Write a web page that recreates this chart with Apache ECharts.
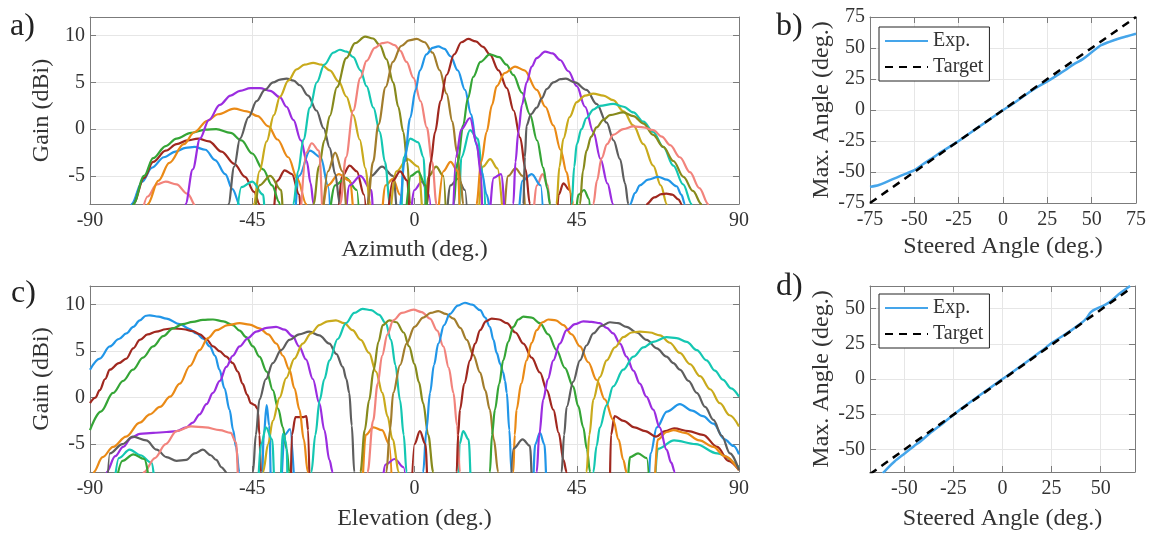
<!DOCTYPE html>
<html><head><meta charset="utf-8">
<script src="https://cdn.jsdelivr.net/npm/echarts@6/dist/echarts.min.js"></script>
<style>html,body{margin:0;padding:0;background:#fff}#c{width:1163px;height:536px}</style>
</head><body><div id="c"></div>
<script>
// ---------- DATA ----------
// Panel a) azimuth beams: [angle(deg), gain(dBi)]
const azPink1 = [[-77,-12],[-74,-7.2],[-71.5,-5.9],[-69,-5.6],[-66,-5.9],[-63,-6.9],[-60.5,-8.3],[-59,-12]];
const azBlue1 = [[-79.5,-12],[-78.5,-8],[-75.5,-5.6],[-72.8,-4.1],[-69.5,-3.0],[-66.3,-2.4],[-63.5,-2.0],[-61,-1.9],[-58,-2.2],[-55.3,-3.3],[-52.5,-4.8],[-50.5,-6.4],[-48.3,-8.2],[-47,-12],[-34,-12],[-32,-5],[-29,-2.3],[-26,-3],[-24,-6],[-23,-12]];
const azRed1 = [[-79,-12],[-78,-8],[-75,-5.2],[-72.5,-3.5],[-69,-2.3],[-66,-1.6],[-63,-1.2],[-60,-1.0],[-57,-1.3],[-53.5,-2.4],[-50,-3.7],[-47,-5.1],[-44.5,-6.7],[-43,-8],[-42,-12],[-40,-12],[-38,-5.5],[-36,-4.4],[-34,-4.8],[-32,-7],[-31,-12],[-22,-12],[-20,-5],[-18,-3.9],[-16,-4.5],[-14,-7],[-13,-12]];
const azGreen1 = [[-79,-12],[-78,-8],[-75,-5.0],[-72.5,-3.1],[-69,-1.8],[-66,-1.0],[-62,-0.4],[-58,-0.05],[-55,0.0],[-51,-0.4],[-48,-1.2],[-45,-2.6],[-42,-4.3],[-39.5,-6.0],[-37.5,-7.8],[-36.5,-12],[-25,-12],[-22,-6],[-19,-5.2],[-16,-6.5],[-15,-12]];
const azOrange1 = [[-75,-12],[-74,-8],[-71,-5.5],[-68,-3.6],[-64,-1.6],[-61,-0.3],[-57.5,0.9],[-54.5,1.6],[-50,2.2],[-46.5,1.9],[-43.5,1.4],[-40.5,0.3],[-38,-1.1],[-35,-3.0],[-32.5,-5.3],[-30,-8],[-29,-12],[-27,-12],[-24,-6],[-21,-4.8],[-18,-5.5],[-16,-12],[-10,-12],[-8,-6],[-6,-5.3],[-4,-7],[-3,-12]];
const azPurple1 = [[-64.5,-12],[-63.5,-8],[-61.5,-4.3],[-59.5,-1.0],[-57,1.0],[-54,2.6],[-51,3.6],[-48.4,4.1],[-45.5,4.4],[-42.9,4.4],[-40,4.1],[-37.3,3.4],[-35.5,2.4],[-33.6,1.0],[-31.5,-1.2],[-29.9,-3.4],[-28.8,-5.8],[-28,-8],[-27.5,-12],[-20,-12],[-18,-6],[-15,-5],[-12,-6.5],[-11,-12],[-2,-12],[0,-6.5],[2,-5.6],[4,-7],[5,-12]];
const azGray1 = [[-52.5,-12],[-51.6,-8],[-50,-4],[-48.4,-1.0],[-46,1.3],[-43.8,3.0],[-41.5,4.2],[-39.2,5.0],[-37.3,5.3],[-35.5,5.4],[-33.5,5.2],[-31.8,4.7],[-29.5,3.6],[-27.2,2.0],[-25.2,0.1],[-23.5,-2.0],[-22,-4.8],[-20.7,-8],[-20,-12],[-14,-12],[-12,-5],[-9,-4.0],[-6,-5],[-4,-12],[8,-12],[10,-6],[12,-5.3],[14,-6.5],[15,-12]];
const azGold1 = [[-45.5,-12],[-44.6,-8],[-43,-4.5],[-41,-1.3],[-39,1.5],[-37.3,3.5],[-35,5.2],[-32.7,6.4],[-30.5,6.9],[-28.1,7.1],[-25.8,6.9],[-23.5,6.3],[-21,5.1],[-18.9,3.5],[-17,1.5],[-15.2,-1.1],[-13.6,-4.2],[-12.3,-8],[-11.5,-12],[-8,-12],[-5,-4.5],[-2,-3.2],[1,-4],[3,-12],[17,-12],[19,-4],[21,-3.2],[23,-4.2],[25,-12]];
const azTeal1 = [[-50,-12],[-48,-6.2],[-45,-5.6],[-42,-7],[-41,-12],[-34.5,-12],[-33.6,-8],[-32.3,-4.5],[-30.8,-1.1],[-29,2.3],[-27.1,5.0],[-25,6.9],[-22.5,8.2],[-20.7,8.5],[-18.8,8.3],[-17,7.7],[-15,6.3],[-13.3,4.6],[-11.4,2.3],[-9.6,-0.3],[-8.2,-3.5],[-6.8,-8],[-6,-12],[-4,-12],[-3,-3],[-1.2,-1.0],[1,-1.4],[2.5,-3],[3.5,-12],[12,-12],[13,-3],[15.4,-0.1],[17.5,-1],[19,-5],[20,-12]];
const azOlive1 = [[-45,-12],[-43,-6.0],[-40,-5],[-37,-6.5],[-36,-12],[-29,-12],[-28,-8],[-26.5,-4],[-25,-1.2],[-23.5,1.4],[-21.5,4.5],[-18.9,7.6],[-16.5,9.2],[-13.7,9.9],[-11.5,9.7],[-9.6,9.0],[-7.8,7.5],[-5.9,5.0],[-4.5,2.4],[-3.1,-0.3],[-2,-3.5],[-1.2,-8],[-0.8,-12],[2,-12],[4,-5],[6,-4],[8,-5],[9,-12]];
const azPink2 = [[-32,-12],[-30,-2.5],[-28.5,-1.5],[-26.5,-2.3],[-25,-12],[-21.5,-12],[-20.6,-8],[-19,-3],[-17,2.0],[-15,5.5],[-13.3,7.3],[-11,8.7],[-9,9.2],[-7.5,9.3],[-5.5,9.0],[-4,8.4],[-2.2,7.2],[-0.3,5.5],[1.7,3.0],[3.4,0.2],[4.9,-3.5],[6.1,-8],[6.8,-12],[32,-12],[34,-6],[35.5,-4.8],[37,-6],[38,-12]];
const azBrown1 = [[-26,-12],[-24,-4.5],[-22,-2.5],[-20,-4.5],[-18,-12],[-14,-12],[-13,-8],[-11.5,-3.5],[-10,0.5],[-8,4.5],[-6,7.2],[-3.7,8.9],[-1.5,9.5],[0.6,9.65],[2.8,9.3],[5,8.2],[7,6.3],[8.9,3.8],[10.5,0.8],[11.8,-2.5],[12.8,-5.5],[13.5,-8],[14,-12],[24,-12],[26,-5],[28,-4.2],[30,-5],[31,-12]];
const azBlue2 = [[-5,-12],[-4,-8],[-2.8,-3.5],[-1.2,1.2],[0.3,4.2],[1.5,6.3],[3.3,8.0],[5,8.7],[6.6,8.85],[8.3,8.6],[10,7.8],[12,6.3],[14,4.2],[15.7,1.6],[17.2,-1.7],[18.6,-4.5],[20,-7],[21,-8.5],[21.5,-12],[28,-12],[30,-5.5],[32.5,-4.8],[35,-6],[36,-12]];
const azRed2 = [[-8,-12],[-6,-5.5],[-4,-4.5],[-2,-5.5],[-1,-12],[2.8,-12],[3.4,-8],[4.5,-3.5],[5.7,-0.3],[7.2,3.0],[8.9,5.8],[11,8.0],[13,9.3],[14.9,9.65],[17,9.4],[19,8.8],[20.9,8.0],[23.3,6.3],[25.6,4.4],[27.5,2.0],[29.3,-0.9],[30.8,-4.3],[32,-8],[32.5,-12],[39,-12],[40,-7],[41.3,-5.8],[43,-6.5],[44,-12]];
const azGreen2 = [[-3,-12],[-1,-5],[1,-4.5],[3,-6],[4,-12],[10,-12],[10.8,-8],[12,-3.5],[13.5,0.4],[14.8,3.3],[16.3,5.6],[18.3,7.2],[20.9,8.0],[23.5,7.7],[25.5,6.9],[27.4,5.8],[29.8,3.9],[32,1.6],[34,-1.2],[35.7,-4.1],[36.8,-6.3],[37.6,-8],[38.2,-12],[44,-12],[45.5,-7],[47,-6.5],[48.5,-7.5],[49,-12]];
const azOrange2 = [[6,-12],[8,-4.5],[10,-3.5],[12,-4.5],[13,-12],[16.5,-12],[17.2,-8],[18.5,-3.5],[20,-0.3],[21.5,2.6],[22.8,4.6],[25,6.0],[27.9,6.7],[30.5,6.3],[33.9,4.2],[36.3,2.4],[38.5,0.4],[40.5,-2.2],[42.2,-4.6],[43.3,-6.8],[44,-8],[44.5,-12]];
const azPurple2 = [[10.5,-12],[11.5,-3],[13,0],[15.4,1.2],[17.2,-1.5],[18.5,-5],[19,-12],[20,-12],[22,-5.2],[24,-4.8],[25.8,-12],[26.8,-12],[27.4,-8],[28,-3.5],[28.8,-0.3],[29.8,2.6],[31.1,5.0],[32.5,6.7],[33.9,7.6],[36.2,8.3],[38.3,8.1],[40.4,7.4],[42.7,6.2],[45,4.6],[47.3,2.4],[49.6,-0.3],[51.6,-3.2],[53.5,-5.8],[55.1,-8],[55.6,-12]];
const azGray2 = [[29.6,-12],[30.2,-8],[30.6,-3],[31.1,0.4],[32.3,1.6],[33.9,2.3],[35.3,3.3],[36.7,4.3],[38.5,5.0],[40.5,5.35],[42,5.4],[44.5,5.0],[47.7,4.2],[50.5,2.7],[53.3,0.7],[55.2,-1.2],[57,-3.2],[58.4,-5.8],[59.3,-8],[59.8,-12]];
const azGold2 = [[38.8,-12],[39.4,-8],[40.2,-4],[41.3,-1.0],[43,1.3],[45,2.9],[47.3,3.6],[49.6,3.8],[52.4,3.6],[55.1,3.1],[58,1.9],[60.7,0.4],[63.5,-1.6],[66.2,-3.9],[68.3,-6.0],[70,-8],[70.5,-12]];
const azTeal2 = [[43,-12],[43.6,-8],[44.3,-4],[45,-1.6],[46.3,0.0],[47.7,1.2],[49.6,2.1],[51.4,2.5],[55.1,2.7],[58,2.4],[60.7,1.8],[63.5,0.8],[66.2,-0.3],[69,-1.9],[71.8,-3.9],[74.5,-5.9],[76.9,-8],[77.4,-12]];
const azOlive2 = [[45.4,-12],[45.9,-8],[46.7,-4.5],[47.7,-2.3],[49,-0.8],[50.5,0.2],[52.4,1.0],[54.2,1.5],[57.9,1.8],[60.7,1.4],[63.5,0.6],[66.2,-0.6],[69,-1.9],[71.8,-3.4],[74.6,-5.1],[77.2,-6.6],[79.6,-8],[80.2,-12]];
const azPink3 = [[49,-12],[49.6,-8],[50.6,-5.5],[51.9,-3.1],[53.4,-1.6],[55.1,-0.6],[57.9,0.0],[60.7,0.3],[63.5,0.2],[66.2,-0.1],[68.6,-0.8],[70.9,-1.7],[73.6,-3.0],[76.4,-4.6],[79,-6.3],[81.5,-8],[82,-12]];
const azBlue3 = [[59,-12],[59.8,-8],[61.2,-6.8],[62.5,-6.0],[64.8,-5.4],[67.6,-5.1],[70,-5.4],[72.7,-6.1],[74,-7.0],[75,-8],[75.5,-12]];
const azRed3 = [[63.8,-12],[64.4,-8],[66.5,-7.3],[68.5,-6.95],[69.9,-6.9],[71.5,-7.0],[73.2,-7.5],[74.1,-8],[74.6,-12]];

// Panel c) elevation beams
const elBlue1 = [[-90,3.0],[-87.3,4.2],[-84.5,5.5],[-82,6.3],[-79.9,6.9],[-78,7.6],[-76.2,8.3],[-74.5,8.8],[-73.4,8.85],[-71,8.7],[-68.8,8.5],[-65.1,7.9],[-62.5,7.4],[-60.5,6.9],[-58.5,6.3],[-56.8,5.5],[-55.3,4.5],[-54.1,3.0],[-52.7,1.0],[-51.3,-1.3],[-50.3,-3.5],[-49.5,-5.3],[-48.6,-8],[-48,-12],[-42.5,-12],[-41.8,-4],[-41,-0.8],[-40.3,-3],[-39.6,-12],[-37.5,-12],[-36,-4],[-34.5,-3.4],[-33,-12]];
const elRed1 = [[-90,-0.6],[-88.5,0.0],[-87.3,0.8],[-85.8,2.0],[-84.5,3.0],[-82,3.7],[-79.9,4.2],[-78,5.3],[-76.2,6.2],[-74,6.8],[-71.6,7.1],[-69,7.35],[-67,7.45],[-64,7.35],[-61.5,7.15],[-59.5,6.8],[-57.8,6.3],[-55.8,5.5],[-54.1,5.0],[-52.2,4.4],[-50.4,3.7],[-49,2.8],[-47.7,1.5],[-46.4,0.3],[-45.4,-0.6],[-44.3,-0.8],[-43.5,-1.2],[-43,-4],[-42.6,-8],[-42.3,-12],[-34.5,-12],[-34,-4],[-33,-2.1],[-31,-2.1],[-30,-2.0],[-29.5,-3.5],[-29,-12]];
const elGreen1 = [[-90,-3.5],[-87,-1.5],[-83.6,0.5],[-80.8,1.8],[-78.1,3.0],[-75.3,4.3],[-72.5,5.5],[-69.7,6.6],[-67,7.45],[-64.3,7.9],[-61.5,8.15],[-58.7,8.35],[-55.9,8.4],[-53,8.2],[-50.4,7.8],[-48.5,7.2],[-46.7,6.5],[-44.8,5.5],[-43,4.4],[-41,2.8],[-39.3,0.8],[-37.8,-1.2],[-36.5,-3.2],[-35.5,-5.5],[-34.7,-8],[-34.3,-12]];
const elOrange1 = [[-89.5,-12],[-89,-8],[-86.5,-6.4],[-83.6,-5.3],[-80,-4.2],[-76.2,-2.7],[-73.4,-1.8],[-70.6,-1.0],[-67.8,0.1],[-65.1,1.5],[-62.3,3.4],[-59.6,5.1],[-57.3,6.4],[-54.9,7.25],[-51.8,7.8],[-48.5,8.0],[-45.7,7.85],[-43,7.45],[-40.6,6.8],[-38.3,5.8],[-36.5,4.5],[-34.7,3.0],[-33.3,1.0],[-31.9,-1.3],[-30.7,-4.5],[-29.6,-8],[-29.2,-12],[-15,-12],[-13.5,-4],[-11.4,-3.2],[-9,-3.5],[-7,-5],[-6,-12]];
const elPurple1 = [[-86,-12],[-85.4,-8],[-83,-6.3],[-80.8,-5.3],[-78.5,-4.3],[-76.2,-3.9],[-72.5,-3.8],[-68.8,-3.7],[-66,-3.6],[-63.3,-3.2],[-61.5,-2.7],[-59.6,-1.8],[-57.7,-0.7],[-55.9,0.5],[-54,1.8],[-52.2,3.3],[-50.4,4.5],[-48.5,5.5],[-46.2,6.4],[-43.9,7.1],[-41,7.5],[-38.4,7.6],[-36,7.3],[-33.8,6.6],[-32,5.5],[-30.1,4.1],[-28.2,2.0],[-26.4,-0.6],[-25,-3.5],[-23.6,-6.7],[-22.7,-8],[-22.3,-12],[-10,-12],[-8,-7.2],[-5.5,-6.6],[-3,-7.5],[-2,-12]];
const elGray1 = [[-85.5,-12],[-84.5,-6],[-81,-5],[-78.1,-4.2],[-74.4,-4.6],[-71.5,-5.6],[-68.8,-6.4],[-66,-6.8],[-63.3,-6.7],[-61,-6.0],[-58.7,-5.6],[-56.5,-6.2],[-55,-6.7],[-53.5,-7.5],[-52.2,-8],[-51.5,-12],[-45.3,-12],[-44.8,-8],[-44,-4],[-43,-0.2],[-41.2,2.0],[-39.3,3.7],[-37,5.1],[-34.7,6.2],[-32,6.8],[-29.2,7.1],[-26.4,6.7],[-23.6,5.8],[-21.7,4.7],[-19.9,3.3],[-18.9,2.0],[-18.1,0.5],[-17.4,-3],[-16.7,-8],[-16.4,-12]];
const elGold1 = [[-42.5,-12],[-42,-8],[-40.6,-5],[-39.3,-2.5],[-37.4,0.0],[-35.6,2.1],[-33.3,4.2],[-31,5.8],[-28.7,6.9],[-26.4,7.8],[-24.1,8.2],[-21.8,8.3],[-19.5,8.0],[-17.2,7.25],[-14.9,6.2],[-12.6,4.8],[-10.7,2.8],[-8.9,0.5],[-7.5,-2.0],[-6.1,-4.5],[-4.3,-8],[-3.8,-12]];
const elTeal1 = [[-84,-12],[-82,-6.5],[-79,-5.6],[-76,-6.2],[-73,-7],[-71,-12],[-44,-12],[-42.5,-5],[-41.2,-3.2],[-39.5,-4.5],[-38.5,-12],[-37.5,-12],[-36.5,-3.9],[-35.5,-5],[-35,-12],[-29,-12],[-28.6,-8],[-27.5,-4],[-26.3,-0.3],[-25,2.0],[-23.6,4.0],[-21.3,6.3],[-19,8.0],[-16.7,9.1],[-14.4,9.55],[-12,9.4],[-9.8,8.9],[-8,8.0],[-6.5,6.2],[-5.3,3.5],[-4,-0.3],[-3,-4],[-2.2,-8],[-1.8,-12],[12,-12],[12.5,-5],[13.5,-3.6],[15,-4.5],[16,-12],[66,-12],[67.5,-5.5],[72,-4.6],[78,-5.0],[84,-6.0],[90,-7.5]];
const elOlive1 = [[-15.5,-12],[-15,-8],[-13.8,-3.5],[-12.6,-0.3],[-11.3,3.0],[-10,6.0],[-8.8,7.8],[-7,8.3],[-5,8.1],[-3,7.0],[-1.5,5.5],[0,3.6],[1.2,1.7],[2.4,-0.6],[3.8,-4],[5.2,-8],[5.6,-12]];
const elPink1 = [[-77,-12],[-75,-8],[-72,-6.5],[-69,-5],[-66,-3.6],[-62,-3.1],[-58,-3.2],[-54,-3.5],[-51,-3.8],[-49.5,-4.8],[-48.5,-12],[-13.5,-12],[-13,-8],[-11.5,-2.5],[-10.2,1.5],[-9,4.5],[-7.5,6.8],[-5.9,8.3],[-3.5,9.1],[-0.3,9.45],[2,9.2],[4.3,8.5],[6.3,7.2],[8,5.5],[9.5,3.2],[10.8,0.5],[11.8,-3],[12.6,-8],[13,-12]];
const elBrown1 = [[-8.5,-12],[-7.8,-8],[-6.8,-3.5],[-5.9,0.5],[-4,3.5],[-2.2,5.8],[0,7.6],[2.4,8.6],[4.5,9.1],[6.6,9.3],[8.7,9.0],[10.8,8.5],[12.7,7.5],[14.5,6.2],[16.3,4.6],[18.2,2.7],[19.6,0.8],[20.9,-1.3],[22,-4.5],[23.2,-8],[23.6,-12]];
const elBlue2 = [[1.8,-12],[2.4,-8],[3.3,-3.5],[4.3,0.5],[5.4,3.5],[6.6,5.8],[8.2,7.8],[9.8,9.0],[12,9.9],[14,10.2],[16,10.0],[18.2,9.4],[19.6,8.6],[20.9,7.6],[21.9,6.2],[22.8,4.8],[23.8,3.6],[24.6,2.7],[25.1,1.8],[25.6,0.5],[26.3,-3.5],[26.9,-8],[27.2,-12],[32.5,-12],[33.5,-5],[34.8,-3.8],[36,-5],[37,-12],[64.5,-12],[65.5,-6],[67.2,-3.2],[70,-1.5],[73.6,-0.7],[77,-1.4],[80,-2.0],[82.9,-2.8],[86,-4.5],[88.5,-5.2],[90,-6.1]];
const elRed2 = [[-1,-12],[0,-5],[1.5,-3.6],[3,-5],[4,-12],[11.2,-12],[11.7,-8],[12.1,-4],[12.6,-1.3],[13.8,1.5],[15.4,4.0],[16.8,5.8],[18.2,7.25],[19.8,8.2],[21.4,8.5],[23.5,8.4],[25.6,8.0],[28,7.0],[30.2,5.8],[32.5,4.3],[34.8,2.7],[36.7,0.8],[38.5,-1.3],[40,-3.8],[41.3,-6.7],[42.2,-8],[42.6,-12],[54,-12],[54.5,-4],[55.5,-2.0],[58,-2.5],[61,-3.2],[64,-3.6],[67,-4.2],[69.5,-3.6],[72,-3.3],[76,-3.6],[80,-4.0],[84,-5.3],[87,-6.8],[90,-7.8]];
const elGreen2 = [[-84,-12],[-81,-6.8],[-78,-6.1],[-75,-6.6],[-72,-12],[20.4,-12],[20.9,-8],[21.5,-4],[22.3,-1.3],[23.5,1.5],[24.6,4.0],[26,6.0],[27.4,7.6],[28.8,8.4],[30.2,8.7],[32.5,8.6],[34.8,8.0],[37.1,6.8],[39.4,5.1],[41.7,3.2],[44,1.2],[45.4,-0.9],[46.8,-3.2],[47.8,-5.5],[48.7,-8],[49.1,-12],[58.5,-12],[59.8,-6.4],[62,-6.0],[64.4,-6.5],[65.5,-12]];
const elOrange2 = [[26.9,-12],[27.4,-8],[27.8,-4],[28.3,-1.3],[29.6,1.5],[31.1,4.0],[32.5,5.9],[33.9,7.25],[35.5,8.1],[37.1,8.4],[39.2,8.3],[41.3,7.8],[43.6,6.8],[45.9,5.5],[48.2,3.8],[50.5,1.9],[52.8,-0.2],[55.1,-2.4],[56.6,-4.5],[57.9,-6.7],[58.8,-8],[59.3,-12],[66,-12],[67.5,-4.5],[70,-3.7],[71.8,-3.5],[75,-3.8],[79,-4.6],[82.9,-5.3],[86,-6.3],[90,-7.8]];
const elPurple2 = [[33.4,-12],[33.9,-8],[34.6,-4],[35.7,-0.2],[37,2.0],[38.5,4.0],[40.3,5.8],[42.2,7.25],[44.5,7.9],[46.8,8.2],[49.1,8.15],[51.4,8.0],[53.3,7.5],[55.1,6.9],[57,5.8],[58.8,4.4],[60.7,2.9],[62.5,1.5],[64.3,0.1],[66.2,-1.3],[68,-3.2],[69.9,-5.6],[71.2,-7],[72.2,-8],[72.7,-12]];
const elGray2 = [[26.5,-12],[27.4,-5.5],[30,-4.5],[32,-5.2],[33,-12],[40,-12],[40.8,-8],[41.5,-4],[42.2,-1.0],[44,1.7],[45.9,4.0],[47.7,5.6],[49.6,6.9],[51.8,7.7],[54.2,8.1],[56.5,8.0],[58.8,7.6],[61.6,7.0],[64.4,6.2],[67.2,5.3],[69.9,4.4],[71.8,3.7],[73.6,3.0],[76,1.8],[78.3,0.5],[80.6,-1.0],[82.9,-2.4],[85.2,-4.1],[87.5,-6.0],[90,-7.8]];
const elGold2 = [[47.2,-12],[47.7,-8],[48.5,-4],[49.6,-0.2],[51.4,2.2],[53.3,4.0],[55.6,5.4],[57.9,6.5],[60.2,7.0],[62.5,7.1],[65.3,7.0],[68.1,6.7],[70.8,5.9],[73.6,4.8],[76.4,3.6],[79.2,2.3],[82,0.9],[84.7,-0.6],[87.4,-1.9],[90,-3.1]];
const elTeal2 = [[48.8,-12],[49.6,-8],[50.5,-5.2],[51.4,-3.2],[53.3,-0.8],[55.1,1.2],[57.9,3.0],[60.7,4.4],[63.5,5.4],[66.2,6.0],[69.9,6.5],[72.7,6.4],[75.5,6.0],[78.3,5.1],[81,4.0],[83.3,2.9],[85.6,1.9],[87.8,1.0],[90,0.1]];

// Panel b) steering accuracy (azimuth)
const steeredB = [-75,-70,-65,-60,-55,-50,-45,-40,-35,-30,-25,-20,-15,-10,-5,0,5,10,15,20,25,30,35,40,45,50,55,60,65,70,75];
const expB     = [-62,-60.5,-57.5,-54.5,-51.5,-48.5,-43.5,-39,-34,-29.5,-25,-20,-15,-10,-5,0,4.5,9.5,14.5,19,23,27.5,32,37,41,46.5,52,55,57.5,59.5,61.5];
const targetBx = [-75,75];
const targetBy = [-75,75];
// Panel d) steering accuracy (elevation)
const steeredD = [-61,-58,-55,-50,-45,-42,-37,-30,-25,-20,-10,0,10,20,25,30,35,40,43,45,48,52,55,60,65];
const expD     = [-67,-62.5,-58.5,-53,-47.5,-44.5,-38.5,-31,-25.5,-20,-10,0,9.8,20,25.5,30,34.5,39.5,43.5,47.5,50,52.5,55,61,66];
const targetDx = [-67.5,65];
const targetDy = [-67.5,64];

// tick labels
const angTicks90 = [-90,-45,0,45,90];
const gainTicks = [-5,0,5,10];
const steerTicksB = [-75,-50,-25,0,25,50,75];
const steerTicksD = [-50,-25,0,25,50];

// ---------- STYLE ----------
const C = {blue:'#2196e8', red:'#a0281f', green:'#35a536', orange:'#ea8a16', purple:'#9b2de0',
  gray:'#5e5e5e', gold:'#c9aa1c', teal:'#14c7b2', olive:'#878a1c', pink:'#f2837c', brown:'#a27d2c'};
const azSet = [[azPink1,C.pink],[azBlue1,C.blue],[azRed1,C.red],[azGreen1,C.green],[azOrange1,C.orange],[azPurple1,C.purple],[azGray1,C.gray],[azGold1,C.gold],[azTeal1,C.teal],[azOlive1,C.olive],[azPink2,C.pink],[azBrown1,C.brown],[azBlue2,C.blue],[azRed2,C.red],[azGreen2,C.green],[azOrange2,C.orange],[azPurple2,C.purple],[azGray2,C.gray],[azGold2,C.gold],[azTeal2,C.teal],[azOlive2,C.olive],[azPink3,C.pink],[azBlue3,C.blue],[azRed3,C.red]];
const elSet = [[elBlue1,C.blue],[elRed1,C.red],[elGreen1,C.green],[elOrange1,C.orange],[elPurple1,C.purple],[elGray1,C.gray],[elGold1,C.gold],[elTeal1,C.teal],[elOlive1,C.olive],[elPink1,C.pink],[elBrown1,C.brown],[elBlue2,C.blue],[elRed2,C.red],[elGreen2,C.green],[elOrange2,C.orange],[elPurple2,C.purple],[elGray2,C.gray],[elGold2,C.gold],[elTeal2,C.teal]];

const FONT = 'Liberation Serif';
const TXT = '#333';
const AXC = '#7b7b7b';
const GRIDC = '#e6e6e6';

const grids = [
  {left:90, top:17, width:649, height:187},
  {left:870, top:17, width:266, height:186},
  {left:90, top:286, width:649, height:186},
  {left:870, top:286, width:265, height:186}
];

function mainAxis(pos, gi, min, max, ticks, interval, name, gap){
  const vertical = (pos==='left');
  const a = {type:'value', gridIndex:gi, position:pos, min, max,
    axisLine:{show:true, onZero:false, lineStyle:{color:AXC, width:1}},
    axisTick:{show:true, inside:true, length:6, lineStyle:{color:AXC}},
    axisLabel:{show:true, color:TXT, fontFamily:FONT, fontSize:20, margin: vertical?5:7},
    splitLine:{show:true, lineStyle:{color:GRIDC, width:1}},
    name, nameLocation:'middle', nameGap:gap,
    nameTextStyle:{color:TXT, fontFamily:FONT, fontSize:24}
  };
  if (interval) a.interval = interval;
  else { a.axisTick.customValues = ticks; a.axisLabel.customValues = ticks; }
  return a;
}
function sideAxis(pos, gi, min, max, ticks, interval){
  const a = {type:'value', gridIndex:gi, position:pos, min, max,
    axisLine:{show:true, onZero:false, lineStyle:{color:AXC, width:1}},
    axisTick:{show:true, inside:true, length:6, lineStyle:{color:AXC}},
    axisLabel:{show:false}, splitLine:{show:false}};
  if (interval) a.interval = interval;
  else { a.axisTick.customValues = ticks; a.axisLabel.customValues = ticks; }
  return a;
}

const xAxis = [
  mainAxis('bottom',0,-90,90,angTicks90,45,'Azimuth (deg.)',34),
  mainAxis('bottom',1,-75,75,steerTicksB,25,'Steered Angle (deg.)',32),
  mainAxis('bottom',2,-90,90,angTicks90,45,'Elevation (deg.)',35),
  mainAxis('bottom',3,-67.5,67.5,steerTicksD,null,'Steered Angle (deg.)',35),
  sideAxis('top',0,-90,90,angTicks90,45),
  sideAxis('top',1,-75,75,steerTicksB,25),
  sideAxis('top',2,-90,90,angTicks90,45),
  sideAxis('top',3,-67.5,67.5,steerTicksD,null)
];
const yAxis = [
  mainAxis('left',0,-8,12,gainTicks,null,'Gain (dBi)',33),
  mainAxis('left',1,-75,75,steerTicksB,25,'Max. Angle (deg.)',36),
  mainAxis('left',2,-8,12,gainTicks,null,'Gain (dBi)',33),
  mainAxis('left',3,-66,66,steerTicksD,null,'Max. Angle (deg.)',36),
  sideAxis('right',0,-8,12,gainTicks,null),
  sideAxis('right',1,-75,75,steerTicksB,25),
  sideAxis('right',2,-8,12,gainTicks,null),
  sideAxis('right',3,-66,66,steerTicksD,null)
];

const series = [];
function beam(data, color, gi){
  series.push({type:'line', xAxisIndex:gi, yAxisIndex:gi, data, symbol:'none', showSymbol:false,
    smooth:0.35, smoothMonotone:'x', clip:true, silent:true, animation:false,
    lineStyle:{color, width:2.2}});
}
azSet.forEach(([d,c])=>beam(d,c,0));
elSet.forEach(([d,c])=>beam(d,c,2));

function zip(xs, ys){ return xs.map((x,i)=>[x, ys[i]]); }
[[1, steeredB, expB, targetBx, targetBy],[3, steeredD, expD, targetDx, targetDy]].forEach(([gi, sx, ey, tx, ty])=>{
  series.push({name:'Exp.', type:'line', xAxisIndex:gi, yAxisIndex:gi, data:zip(sx,ey), symbol:'none', smooth:0.3, clip:true,
    lineStyle:{color:'#45a5ea', width:2.5}, itemStyle:{color:'#45a5ea'}, animation:false});
  series.push({name:'Target', type:'line', xAxisIndex:gi, yAxisIndex:gi, data:zip(tx,ty), symbol:'none', clip:true,
    lineStyle:{color:'#000', width:2.5, type:[8,6]}, itemStyle:{color:'#000'}, animation:false, z:3});
});

function legendAt(left, top){
  return {left, top, orient:'vertical', data:['Exp.','Target'], selectedMode:false,
    backgroundColor:'#fff', borderColor:'#222', borderWidth:1, borderRadius:0, padding:[4,6,4,5],
    itemWidth:43, itemHeight:14, itemGap:6,
    itemStyle:{opacity:0},
    textStyle:{fontFamily:FONT, fontSize:20, color:TXT}};
}

function panelLabel(text, x, y){
  return {type:'text', left:x, top:y, style:{text, font:'32px "Liberation Serif"', fill:'#222'}};
}

const chart = echarts.init(document.getElementById('c'), null, {renderer:'canvas'});
chart.setOption({
  animation:false,
  backgroundColor:'#fff',
  grid: grids,
  xAxis, yAxis, series,
  legend:[legendAt(879,27), legendAt(879,294)],
  graphic:[panelLabel('a)',10,11), panelLabel('b)',776,11), panelLabel('c)',11,278), panelLabel('d)',776,271)]
});
</script></body></html>
